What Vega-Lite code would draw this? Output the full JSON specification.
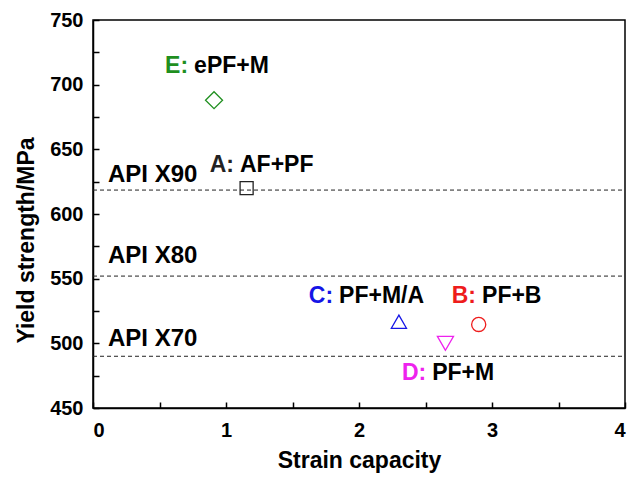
{
  "$schema": "https://vega.github.io/schema/vega-lite/v6.json",
  "width": 532,
  "height": 388,
  "autosize": "none",
  "padding": {"left": 93, "top": 20, "right": 10, "bottom": 69},
  "background": "white",
  "config": {
    "font": "Liberation Sans",
    "view": {"stroke": "black", "strokeWidth": 1.5},
    "axis": {
      "grid": false,
      "domainColor": "black",
      "domainWidth": 1.5,
      "tickColor": "black",
      "tickWidth": 1.5,
      "labelFont": "Liberation Sans",
      "labelFontSize": 20,
      "labelFontWeight": "bold",
      "labelColor": "black",
      "labelOverlap": false,
      "titleFont": "Liberation Sans",
      "titleFontSize": 23,
      "titleFontWeight": "bold",
      "titleColor": "black"
    }
  },
  "datasets": {
    "points": [
      {"sample": "A", "x": 1.155, "y": 620},
      {"sample": "B", "x": 2.9, "y": 514.6},
      {"sample": "C", "x": 2.3, "y": 516.7},
      {"sample": "D", "x": 2.65, "y": 500},
      {"sample": "E", "x": 0.91, "y": 688}
    ],
    "limits": [
      {"grade": "API X90", "x": 0, "x2": 4, "y": 618.5, "lx": 0.113, "ly": 624.7},
      {"grade": "API X80", "x": 0, "x2": 4, "y": 552, "lx": 0.113, "ly": 562},
      {"grade": "API X70", "x": 0, "x2": 4, "y": 490, "lx": 0.113, "ly": 497.9}
    ],
    "labels": [
      {"sample": "E", "prefix": "E:", "body": "ePF+M", "x": 0.73, "y": 709},
      {"sample": "A", "prefix": "A:", "body": "AF+PF", "x": 1.075, "y": 632.4},
      {"sample": "C", "prefix": "C:", "body": "PF+M/A", "x": 1.82, "y": 531},
      {"sample": "B", "prefix": "B:", "body": "PF+B", "x": 2.895, "y": 531},
      {"sample": "D", "prefix": "D:", "body": "PF+M", "x": 2.52, "y": 471.6}
    ]
  },
  "encoding": {
    "x": {
      "field": "x",
      "type": "quantitative",
      "scale": {"domain": [0, 4], "nice": false, "zero": false},
      "axis": {
        "title": "Strain capacity",
        "values": [0, 0.5, 1, 1.5, 2, 2.5, 3, 3.5, 4],
        "labelExpr": "datum.value % 1 === 0 ? format(datum.value, 'd') : ''",
        "tickSize": -6,
        "labelPadding": 18,
        "titleAnchor": "middle",
        "titleBaseline": "alphabetic",
        "titleY": 59
      }
    },
    "y": {
      "field": "y",
      "type": "quantitative",
      "scale": {"domain": [450, 750], "nice": false, "zero": false},
      "axis": {
        "title": "Yield strength/MPa",
        "values": [450, 475, 500, 525, 550, 575, 600, 625, 650, 675, 700, 725, 750],
        "labelExpr": "datum.value % 50 === 0 ? datum.label : ''",
        "tickSize": -6,
        "labelPadding": 16,
        "titleAngle": 270,
        "titleAlign": "center",
        "titleBaseline": "middle",
        "titleX": -67,
        "titleY": 220
      }
    }
  },
  "layer": [
    {
      "data": {"name": "limits"},
      "mark": {"type": "rule", "color": "#222222", "strokeWidth": 1, "strokeDash": [4, 3]},
      "encoding": {"x2": {"field": "x2"}}
    },
    {
      "data": {"name": "limits"},
      "mark": {"type": "text", "align": "left", "baseline": "alphabetic", "fontSize": 24, "fontWeight": "bold", "color": "black"},
      "encoding": {
        "x": {"field": "lx", "type": "quantitative"},
        "y": {"field": "ly", "type": "quantitative"},
        "text": {"field": "grade"}
      }
    },
    {
      "data": {"name": "points"},
      "mark": {"type": "point", "filled": false, "strokeWidth": 1.3, "opacity": 1},
      "encoding": {
        "shape": {"field": "sample", "type": "nominal", "legend": null,
          "scale": {"domain": ["A", "B", "C", "D", "E"], "range": ["square", "circle", "triangle-up", "triangle-down", "diamond"]}},
        "color": {"field": "sample", "type": "nominal", "legend": null,
          "scale": {"domain": ["A", "B", "C", "D", "E"], "range": ["#222222", "#ee1c1c", "#1515e6", "#ee22ee", "#1f8f1f"]}},
        "size": {"field": "sample", "type": "ordinal", "legend": null,
          "scale": {"domain": ["A", "B", "C", "D", "E"], "range": [170, 289, 400, 380, 400]}}
      }
    },
    {
      "data": {"name": "labels"},
      "mark": {"type": "text", "align": "right", "baseline": "alphabetic", "fontSize": 23, "fontWeight": "bold", "dx": -2},
      "encoding": {
        "text": {"field": "prefix"},
        "color": {"field": "sample", "type": "nominal", "legend": null}
      }
    },
    {
      "data": {"name": "labels"},
      "mark": {"type": "text", "align": "left", "baseline": "alphabetic", "fontSize": 23, "fontWeight": "bold", "dx": 4, "color": "black"},
      "encoding": {"text": {"field": "body"}}
    }
  ]
}
